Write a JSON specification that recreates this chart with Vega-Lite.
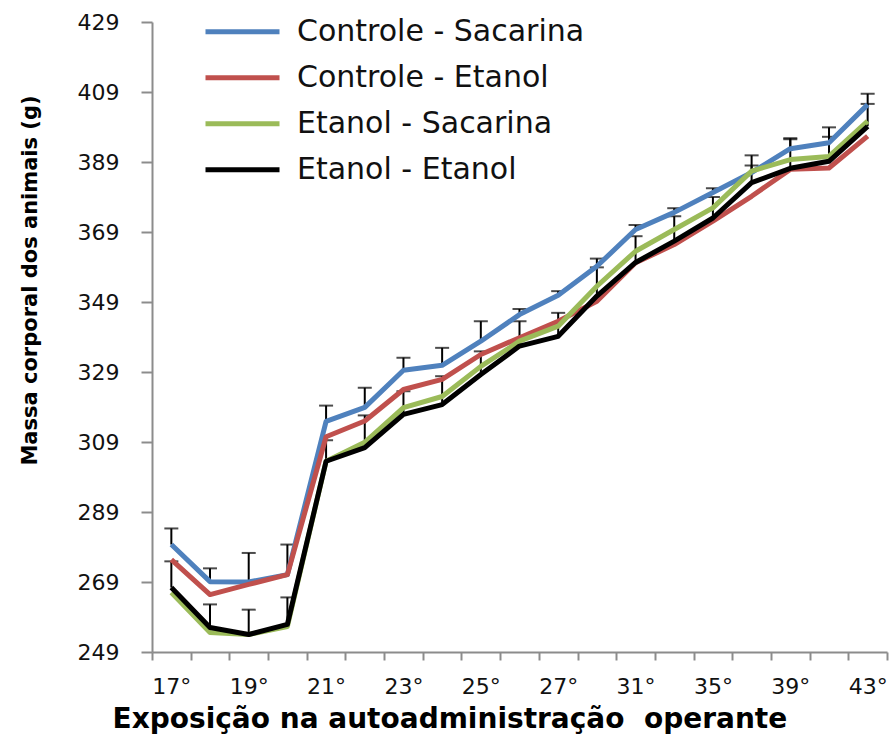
{
  "$schema": "https://vega.github.io/schema/vega-lite/v6.json",
  "width": 735,
  "height": 630,
  "autosize": "none",
  "padding": {"left": 152, "top": 22, "right": 2, "bottom": 82},
  "background": "white",
  "config": {
    "view": {"stroke": null},
    "font": "DejaVu Sans"
  },
  "data": {
    "values": [
      {"dia": "17°", "grupo": "Controle - Sacarina", "massa": 279.7, "sup": 284.3},
      {"dia": "18°", "grupo": "Controle - Sacarina", "massa": 269.1, "sup": 272.9},
      {"dia": "19°", "grupo": "Controle - Sacarina", "massa": 269.0, "sup": 277.3},
      {"dia": "20°", "grupo": "Controle - Sacarina", "massa": 271.1, "sup": 279.7},
      {"dia": "21°", "grupo": "Controle - Sacarina", "massa": 314.9, "sup": 319.4},
      {"dia": "22°", "grupo": "Controle - Sacarina", "massa": 318.9, "sup": 324.5},
      {"dia": "23°", "grupo": "Controle - Sacarina", "massa": 329.5, "sup": 333.1},
      {"dia": "24°", "grupo": "Controle - Sacarina", "massa": 330.9, "sup": 335.9},
      {"dia": "25°", "grupo": "Controle - Sacarina", "massa": 337.8, "sup": 343.5},
      {"dia": "26°", "grupo": "Controle - Sacarina", "massa": 345.4, "sup": 347.0},
      {"dia": "27°", "grupo": "Controle - Sacarina", "massa": 350.9, "sup": 352.1},
      {"dia": "29°", "grupo": "Controle - Sacarina", "massa": 359.2, "sup": 361.4},
      {"dia": "31°", "grupo": "Controle - Sacarina", "massa": 369.7, "sup": 371.0},
      {"dia": "33°", "grupo": "Controle - Sacarina", "massa": 374.6, "sup": 375.8},
      {"dia": "35°", "grupo": "Controle - Sacarina", "massa": 380.3, "sup": 381.5},
      {"dia": "37°", "grupo": "Controle - Sacarina", "massa": 386.0, "sup": 390.9},
      {"dia": "39°", "grupo": "Controle - Sacarina", "massa": 392.8, "sup": 395.8},
      {"dia": "41°", "grupo": "Controle - Sacarina", "massa": 394.5, "sup": 398.9},
      {"dia": "43°", "grupo": "Controle - Sacarina", "massa": 405.4, "sup": 408.5},

      {"dia": "17°", "grupo": "Controle - Etanol", "massa": 275.4},
      {"dia": "18°", "grupo": "Controle - Etanol", "massa": 265.4},
      {"dia": "19°", "grupo": "Controle - Etanol", "massa": 268.3},
      {"dia": "20°", "grupo": "Controle - Etanol", "massa": 271.1},
      {"dia": "21°", "grupo": "Controle - Etanol", "massa": 310.5},
      {"dia": "22°", "grupo": "Controle - Etanol", "massa": 315.0},
      {"dia": "23°", "grupo": "Controle - Etanol", "massa": 324.0},
      {"dia": "24°", "grupo": "Controle - Etanol", "massa": 326.9},
      {"dia": "25°", "grupo": "Controle - Etanol", "massa": 334.0},
      {"dia": "26°", "grupo": "Controle - Etanol", "massa": 338.8},
      {"dia": "27°", "grupo": "Controle - Etanol", "massa": 343.5},
      {"dia": "29°", "grupo": "Controle - Etanol", "massa": 349.2},
      {"dia": "31°", "grupo": "Controle - Etanol", "massa": 360.2},
      {"dia": "33°", "grupo": "Controle - Etanol", "massa": 365.4},
      {"dia": "35°", "grupo": "Controle - Etanol", "massa": 372.1},
      {"dia": "37°", "grupo": "Controle - Etanol", "massa": 379.2},
      {"dia": "39°", "grupo": "Controle - Etanol", "massa": 386.9},
      {"dia": "41°", "grupo": "Controle - Etanol", "massa": 387.3},
      {"dia": "43°", "grupo": "Controle - Etanol", "massa": 396.4},

      {"dia": "17°", "grupo": "Etanol - Sacarina", "massa": 266.0},
      {"dia": "18°", "grupo": "Etanol - Sacarina", "massa": 254.6},
      {"dia": "19°", "grupo": "Etanol - Sacarina", "massa": 254.0},
      {"dia": "20°", "grupo": "Etanol - Sacarina", "massa": 256.3},
      {"dia": "21°", "grupo": "Etanol - Sacarina", "massa": 303.5},
      {"dia": "22°", "grupo": "Etanol - Sacarina", "massa": 308.9},
      {"dia": "23°", "grupo": "Etanol - Sacarina", "massa": 318.8},
      {"dia": "24°", "grupo": "Etanol - Sacarina", "massa": 322.0},
      {"dia": "25°", "grupo": "Etanol - Sacarina", "massa": 330.6},
      {"dia": "26°", "grupo": "Etanol - Sacarina", "massa": 337.8},
      {"dia": "27°", "grupo": "Etanol - Sacarina", "massa": 342.1},
      {"dia": "29°", "grupo": "Etanol - Sacarina", "massa": 353.5},
      {"dia": "31°", "grupo": "Etanol - Sacarina", "massa": 363.5},
      {"dia": "33°", "grupo": "Etanol - Sacarina", "massa": 369.7},
      {"dia": "35°", "grupo": "Etanol - Sacarina", "massa": 375.9},
      {"dia": "37°", "grupo": "Etanol - Sacarina", "massa": 386.4},
      {"dia": "39°", "grupo": "Etanol - Sacarina", "massa": 389.7},
      {"dia": "41°", "grupo": "Etanol - Sacarina", "massa": 390.6},
      {"dia": "43°", "grupo": "Etanol - Sacarina", "massa": 400.7},

      {"dia": "17°", "grupo": "Etanol - Etanol", "massa": 267.4, "sup": 274.9},
      {"dia": "18°", "grupo": "Etanol - Etanol", "massa": 256.0, "sup": 262.6},
      {"dia": "19°", "grupo": "Etanol - Etanol", "massa": 254.0, "sup": 261.1},
      {"dia": "20°", "grupo": "Etanol - Etanol", "massa": 256.9, "sup": 264.6},
      {"dia": "21°", "grupo": "Etanol - Etanol", "massa": 303.5, "sup": 309.5},
      {"dia": "22°", "grupo": "Etanol - Etanol", "massa": 307.4, "sup": 316.6},
      {"dia": "23°", "grupo": "Etanol - Etanol", "massa": 316.9, "sup": 323.5},
      {"dia": "24°", "grupo": "Etanol - Etanol", "massa": 319.7, "sup": 327.8},
      {"dia": "25°", "grupo": "Etanol - Etanol", "massa": 328.3, "sup": 334.9},
      {"dia": "26°", "grupo": "Etanol - Etanol", "massa": 336.4, "sup": 343.5},
      {"dia": "27°", "grupo": "Etanol - Etanol", "massa": 339.2, "sup": 345.9},
      {"dia": "29°", "grupo": "Etanol - Etanol", "massa": 350.7, "sup": 358.9},
      {"dia": "31°", "grupo": "Etanol - Etanol", "massa": 360.3, "sup": 367.8},
      {"dia": "33°", "grupo": "Etanol - Etanol", "massa": 366.4, "sup": 373.5},
      {"dia": "35°", "grupo": "Etanol - Etanol", "massa": 373.0, "sup": 379.0},
      {"dia": "37°", "grupo": "Etanol - Etanol", "massa": 383.1, "sup": 388.0},
      {"dia": "39°", "grupo": "Etanol - Etanol", "massa": 387.2, "sup": 395.5},
      {"dia": "41°", "grupo": "Etanol - Etanol", "massa": 389.2, "sup": 396.2},
      {"dia": "43°", "grupo": "Etanol - Etanol", "massa": 399.2, "sup": 405.6}
    ]
  },
  "encoding": {
    "x": {
      "field": "dia",
      "type": "ordinal",
      "sort": null,
      "scale": {"type": "band", "paddingInner": 0, "paddingOuter": 0},
      "axis": {
        "title": "Exposição na autoadministração\u00a0 operante",
        "titleFont": "DejaVu Sans",
        "titleFontSize": 28,
        "titleFontWeight": "bold",
        "titleColor": "#000000",
        "titleAnchor": "start",
        "titleAlign": "left",
        "titleBaseline": "alphabetic",
        "titleX": -40,
        "titleY": 75,
        "labelAngle": 0,
        "labelFontSize": 22,
        "labelColor": "#111111",
        "labelPadding": 16,
        "labelOverlap": false,
        "labelExpr": "indexof(['17°','19°','21°','23°','25°','27°','31°','35°','39°','43°'], datum.value) >= 0 ? datum.label : ''",
        "tickBand": "extent",
        "tickSize": 8,
        "tickWidth": 2,
        "tickColor": "#8c8c8c",
        "domainColor": "#8c8c8c",
        "domainWidth": 2,
        "grid": false
      }
    },
    "y": {
      "type": "quantitative",
      "scale": {"domain": [249, 429], "nice": false, "zero": false},
      "axis": {
        "title": "Massa corporal dos animais (g)",
        "titleFont": "DejaVu Sans",
        "titleFontSize": 21,
        "titleFontWeight": "bold",
        "titleColor": "#000000",
        "titleAngle": -90,
        "titleAlign": "center",
        "titleBaseline": "alphabetic",
        "titleX": -116,
        "titleY": 258,
        "values": [249, 269, 289, 309, 329, 349, 369, 389, 409, 429],
        "labelFontSize": 22,
        "labelColor": "#111111",
        "labelPadding": 22,
        "tickSize": 11,
        "tickWidth": 2,
        "tickColor": "#8c8c8c",
        "domainColor": "#8c8c8c",
        "domainWidth": 2,
        "grid": false
      }
    }
  },
  "layer": [
    {
      "transform": [{"filter": "isValid(datum.sup)"}],
      "mark": {"type": "rule", "color": "#000000", "strokeWidth": 2},
      "encoding": {
        "y": {"field": "massa", "type": "quantitative"},
        "y2": {"field": "sup"}
      }
    },
    {
      "transform": [{"filter": "isValid(datum.sup)"}],
      "mark": {"type": "tick", "color": "#000000", "size": 14, "thickness": 2, "orient": "horizontal"},
      "encoding": {
        "y": {"field": "sup", "type": "quantitative"}
      }
    },
    {
      "mark": {"type": "line", "strokeWidth": 5, "strokeJoin": "round", "strokeCap": "butt"},
      "encoding": {
        "y": {"field": "massa", "type": "quantitative"},
        "color": {
          "field": "grupo",
          "type": "nominal",
          "sort": ["Controle - Sacarina", "Controle - Etanol", "Etanol - Sacarina", "Etanol - Etanol"],
          "scale": {
            "domain": ["Controle - Sacarina", "Controle - Etanol", "Etanol - Sacarina", "Etanol - Etanol"],
            "range": ["#4F81BD", "#C0504D", "#9BBB59", "#000000"]
          },
          "legend": {
            "title": null,
            "orient": "none",
            "legendX": 51,
            "legendY": -13,
            "padding": 0,
            "symbolType": "stroke",
            "symbolSize": 5476,
            "symbolStrokeWidth": 5,
            "labelFontSize": 30,
            "labelColor": "#111111",
            "labelOffset": 15,
            "rowPadding": 0,
            "clipHeight": 45.6,
            "labelLimit": 400
          }
        }
      }
    }
  ]
}
